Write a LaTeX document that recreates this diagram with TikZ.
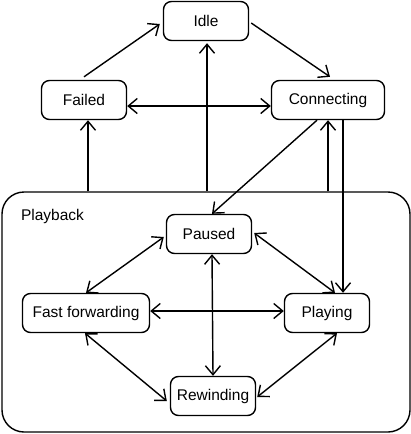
\documentclass[tikz,border=0pt]{standalone}
\usepackage{fontspec}
\setmainfont{Liberation Sans}
\usetikzlibrary{arrows.meta}

\begin{document}
\begin{tikzpicture}[x=1pt, y=-1pt, line width=1.4pt,
		state/.style={draw, rounded corners=8pt, fill=white, minimum width=85pt, minimum height=39pt, inner sep=0pt, font=\fontsize{15.5}{18}\selectfont},
		trans/.style={-{Straight Barb[length=9pt, width=15pt, line width=1.4pt]}},
		both/.style={{Straight Barb[length=9pt, width=15pt, line width=1.4pt]}-{Straight Barb[length=9pt, width=15pt, line width=1.4pt]}}]
	\useasboundingbox (0,0) rectangle (411,434);
	% outer states
	\node[state] (idle) at (206,21) {Idle};
	\node[state] (failed) at (84,100) {Failed};
	\node[state, minimum width=113pt] (connecting) at (328,100) {Connecting};
	% playback super state
	\node[draw, rounded corners=22pt, minimum width=408pt, minimum height=240pt, inner sep=0pt] (playback) at (206,312) {};
	\node[anchor=west, font=\fontsize{15.5}{18}\selectfont] (playbacklabel) at (17,216) {Playback};
	\node[state] (paused) at (209,234) {Paused};
	\node[state, minimum width=127pt] (fastfwd) at (86,313) {Fast forwarding};
	\node[state] (playing) at (327,313) {Playing};
	\node[state] (rewinding) at (213,396) {Rewinding};
	% transitions outside
	\draw[trans] ([yshift=3pt]failed.north) -- ([xshift=-3pt, yshift=-3pt]idle.west);
	\draw[trans] ([xshift=2pt, yshift=-2pt]idle.east) -- ([xshift=2pt, yshift=3pt]connecting.north);
	\draw[both] ([yshift=-6pt]failed.east) -- ([yshift=-6pt]connecting.west);
	\draw[trans] ([xshift=4pt]playback.north -| failed.south) -- ([xshift=4pt]failed.south);
	\draw[trans] ([xshift=1pt]playback.north -| idle.south) -- ([xshift=1pt, yshift=-2pt]idle.south);
	\draw[trans] (playback.north -| connecting.south) -- (connecting.south);
	\draw[trans] ([xshift=15pt]connecting.south) -- ([xshift=16pt]playing.north);
	\draw[trans] ([xshift=-11pt]connecting.south) -- ([xshift=3pt]paused.north);
	% transitions inside playback
	\draw[both] ([xshift=-2pt, yshift=-3pt]paused.west) -- (fastfwd.north);
	\draw[both] ([xshift=2pt, yshift=1pt]paused.east) -- ([xshift=8pt]playing.north);
	\draw[both] ([xshift=3pt]paused.south) -- (rewinding.north);
	\draw[both] ([yshift=2pt]fastfwd.east) -- ([yshift=2pt]playing.west);
	\draw[both] ([xshift=-1pt]fastfwd.south) -- ([xshift=-3pt, yshift=-5pt]rewinding.west);
	\draw[both] ([xshift=10pt]playing.south) -- ([xshift=1pt, yshift=-1pt]rewinding.east);
\end{tikzpicture}
\end{document}
